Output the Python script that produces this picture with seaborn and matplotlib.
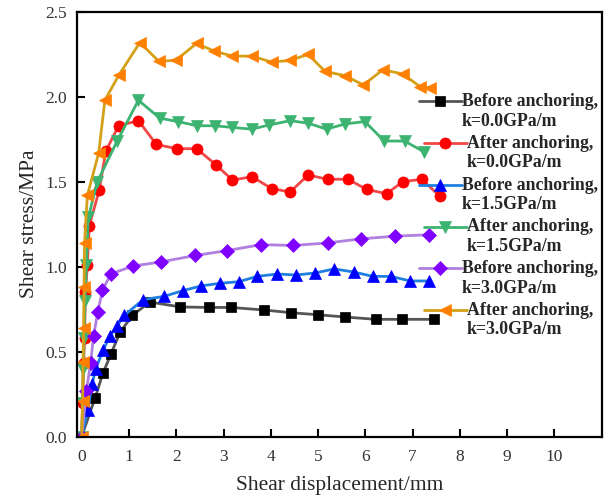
import matplotlib
matplotlib.use("Agg")
import matplotlib.pyplot as plt
from matplotlib.legend_handler import HandlerLine2D
import numpy as np
import seaborn as sns
import pandas as pd

# Shear displacement (mm) and shear stress (MPa) for each test case
x_before_k00 = [0.0, 0.28, 0.45, 0.62, 0.81, 1.07, 1.44, 2.09, 2.69, 3.16, 3.86, 4.43,
                5.00, 5.56, 6.22, 6.78, 7.45]
y_before_k00 = [0.0, 0.225, 0.373, 0.487, 0.613, 0.713, 0.792, 0.763, 0.760, 0.760, 0.745,
                0.729, 0.717, 0.704, 0.690, 0.690, 0.690]

x_after_k00 = [0.0, 0.02, 0.04, 0.06, 0.08, 0.12, 0.16, 0.37, 0.51, 0.78, 1.20, 1.58,
               2.01, 2.43, 2.84, 3.19, 3.60, 4.02, 4.41, 4.79, 5.20, 5.63, 6.03, 6.45,
               6.79, 7.19, 7.58]
y_after_k00 = [0.0, 0.20, 0.43, 0.58, 0.85, 1.01, 1.24, 1.45, 1.68, 1.83, 1.86, 1.72,
               1.695, 1.695, 1.60, 1.51, 1.53, 1.46, 1.44, 1.54, 1.515, 1.515, 1.455,
               1.43, 1.50, 1.515, 1.415]

x_before_k15 = [0.0, 0.13, 0.22, 0.30, 0.45, 0.60, 0.75, 0.90, 1.30, 1.74, 2.14, 2.53,
                2.92, 3.33, 3.71, 4.14, 4.53, 4.94, 5.34, 5.75, 6.16, 6.54, 6.95, 7.35]
y_before_k15 = [0.0, 0.155, 0.31, 0.40, 0.507, 0.593, 0.652, 0.713, 0.806, 0.825, 0.859,
                0.887, 0.902, 0.912, 0.943, 0.957, 0.951, 0.963, 0.987, 0.969, 0.943,
                0.943, 0.916, 0.916]

x_after_k15 = [0.0, 0.02, 0.03, 0.05, 0.07, 0.10, 0.14, 0.33, 0.75, 1.20, 1.65, 2.03,
               2.44, 2.82, 3.19, 3.60, 3.97, 4.41, 4.79, 5.18, 5.56, 5.99, 6.40, 6.83,
               7.25]
y_after_k15 = [0.0, 0.20, 0.40, 0.58, 0.80, 1.01, 1.29, 1.50, 1.74, 1.98, 1.875, 1.855,
               1.83, 1.83, 1.82, 1.81, 1.835, 1.86, 1.845, 1.81, 1.84, 1.855, 1.74,
               1.74, 1.675]

x_before_k30 = [0.0, 0.10, 0.19, 0.25, 0.34, 0.44, 0.62, 1.09, 1.67, 2.40, 3.08, 3.79,
                4.48, 5.20, 5.91, 6.63, 7.35]
y_before_k30 = [0.0, 0.27, 0.435, 0.59, 0.733, 0.863, 0.958, 1.004, 1.028, 1.066, 1.095,
                1.13, 1.125, 1.14, 1.164, 1.18, 1.188]

x_after_k30 = [0.0, 0.02, 0.03, 0.04, 0.05, 0.06, 0.12, 0.36, 0.49, 0.79, 1.23, 1.63,
               1.99, 2.43, 2.80, 3.19, 3.60, 4.02, 4.41, 4.79, 5.15, 5.57, 5.96, 6.37,
               6.79, 7.16, 7.37]
y_after_k30 = [0.0, 0.21, 0.44, 0.64, 0.88, 1.14, 1.42, 1.67, 1.98, 2.13, 2.32, 2.21,
               2.215, 2.315, 2.27, 2.24, 2.24, 2.205, 2.215, 2.25, 2.15, 2.125, 2.07,
               2.16, 2.135, 2.06, 2.055]

labels = ["Before anchoring,\nk=0.0GPa/m", "After anchoring,\nk=0.0GPa/m",
          "Before anchoring,\nk=1.5GPa/m", "After anchoring,\nk=1.5GPa/m",
          "Before anchoring,\nk=3.0GPa/m", "After anchoring,\nk=3.0GPa/m"]

x_ticks = list(range(0, 11))
y_ticks = [0.0, 0.5, 1.0, 1.5, 2.0, 2.5]

series = [
    (x_before_k00, y_before_k00, "#555555", "#000000", "s", 7.0),
    (x_after_k00, y_after_k00, "#f04848", "#ff0000", "o", 8.0),
    (x_before_k15, y_before_k15, "#1f7fe0", "#0000ff", "^", 8.5),
    (x_after_k15, y_after_k15, "#3cb371", "#3cb371", "v", 8.5),
    (x_before_k30, y_before_k30, "#b07fe0", "#8000ff", "D", 6.8),
    (x_after_k30, y_after_k30, "#d4a017", "#ff8000", "<", 8.5),
]


class FirstLineHandler(HandlerLine2D):
    """Legend handle drawn level with the first line of a two-line label."""

    def create_artists(self, legend, orig_handle, xdescent, ydescent, width,
                       height, fontsize, trans):
        artists = super().create_artists(legend, orig_handle, xdescent, ydescent,
                                         width, height, fontsize, trans)
        for art in artists:
            art.set_ydata(np.asarray(art.get_ydata()) + 0.58 * fontsize)
        return artists


sns.set_theme(style="ticks")
plt.rcParams["font.family"] = ["Liberation Serif", "DejaVu Serif"]
plt.rcParams["xtick.direction"] = "in"
plt.rcParams["ytick.direction"] = "in"

fig = plt.figure(figsize=(6.08, 4.97), dpi=100)
ax = fig.add_axes([0.1266, 0.1217, 0.8630, 0.8542])

for (xs, ys, lc, mc, mk, ms), lab in zip(series, labels):
    df = pd.DataFrame({"disp": xs, "stress": ys})
    sns.lineplot(data=df, x="disp", y="stress", ax=ax, sort=False, estimator=None,
                 color=lc, linewidth=2.0, marker=mk, markersize=ms,
                 markerfacecolor=mc, markeredgecolor=mc, markeredgewidth=0.5,
                 label=lab)

ax.set_xlim(-0.1, 11.0)
ax.set_ylim(0, 2.5)
ax.set_xticks(x_ticks)
ax.set_yticks(y_ticks)
ax.set_yticklabels([f"{v:.1f}" for v in y_ticks])
ax.tick_params(axis="both", which="major", length=6, width=1.5, labelsize=12.5,
               colors="#000000", labelcolor="#333333")
ax.tick_params(axis="x", pad=9)
ax.tick_params(axis="y", pad=7)
ax.tick_params(top=False, right=False)
for side in ["left", "bottom", "top", "right"]:
    ax.spines[side].set_visible(True)
    ax.spines[side].set_color("#000000")
    ax.spines[side].set_linewidth(1.6)

ax.set_xlabel("Shear displacement/mm", fontsize=15.5, labelpad=8)
ax.set_ylabel("Shear stress/MPa", fontsize=15.5, labelpad=5)

handles, leg_labels = ax.get_legend_handles_labels()
leg = ax.legend(handles, leg_labels, loc="upper left",
                bbox_to_anchor=(419 / 608, 1 - 93 / 497),
                bbox_transform=fig.transFigure, frameon=False,
                prop={"family": "Liberation Serif", "weight": "bold", "size": 12.8},
                handlelength=2.4, handletextpad=0.0, labelspacing=0.29,
                borderpad=0, borderaxespad=0,
                handler_map={h: FirstLineHandler() for h in handles})
# center each legend entry within its column
leg._legend_handle_box.get_children()[0].align = "center"

fig.savefig("out.png", dpi=100)
